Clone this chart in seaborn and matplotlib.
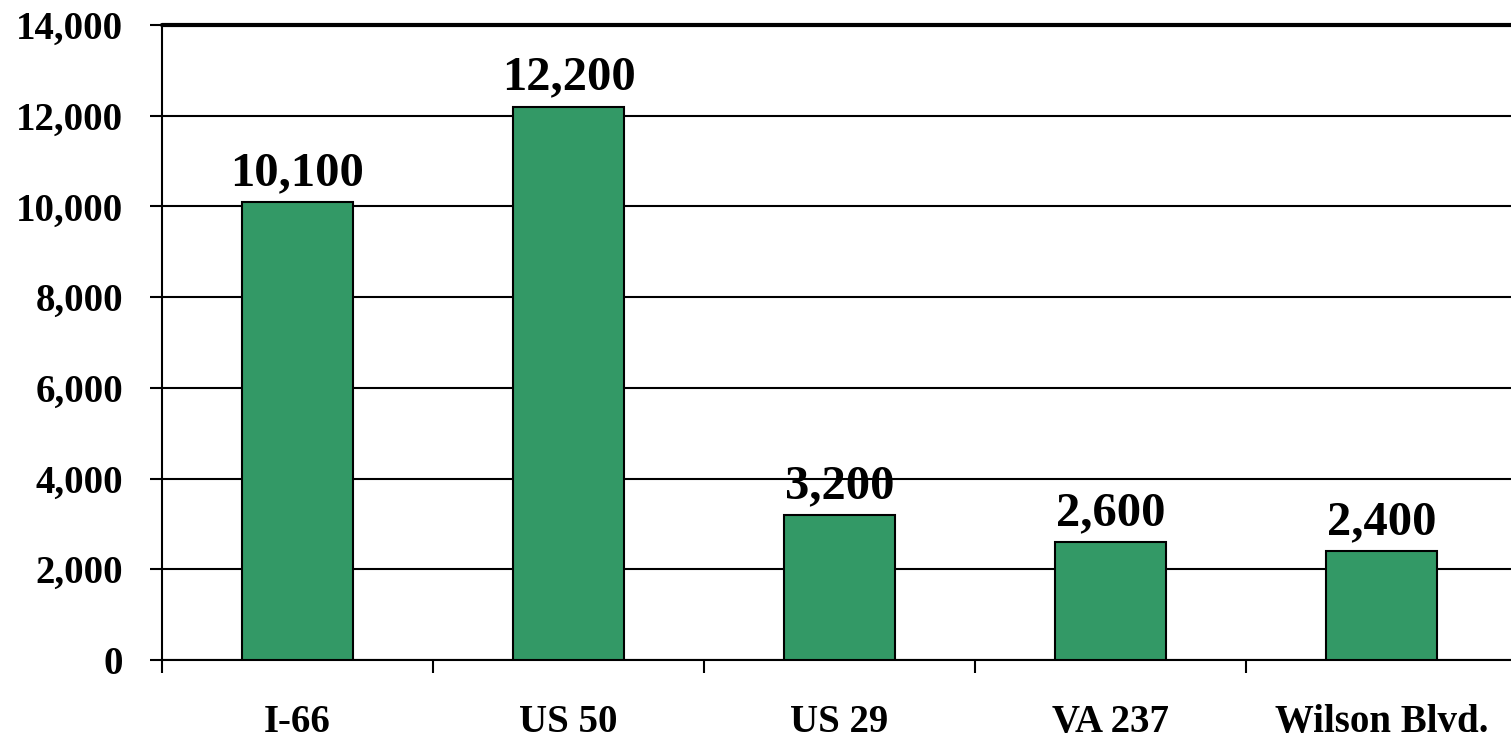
import matplotlib
matplotlib.use("Agg")
import matplotlib.pyplot as plt
import seaborn as sns
import pandas as pd
from matplotlib.ticker import FuncFormatter, FixedLocator

categories = ["I-66", "US 50", "US 29", "VA 237", "Wilson Blvd."]
values = [10100, 12200, 3200, 2600, 2400]
yticks = [0, 2000, 4000, 6000, 8000, 10000, 12000, 14000]

sns.set_theme(style="white")
plt.rcParams["font.family"] = ["Liberation Serif", "DejaVu Serif"]
plt.rcParams["font.weight"] = "bold"

df = pd.DataFrame({"road": categories, "value": values})

fig = plt.figure(figsize=(15.11, 7.34), dpi=100)
W, H = 1511, 734
left, right, top, bottom = 162, 1517, 25, 660
ax = fig.add_axes([left / W, 1 - bottom / H, (right - left) / W, (bottom - top) / H])

sns.barplot(data=df, x="road", y="value", color="#339966", saturation=1,
            width=0.41, edgecolor="black", linewidth=1.5, ax=ax, zorder=3)

ax.set_ylim(0, 14000)
ax.set_xlim(-0.5, len(categories) - 0.5)
ax.set_yticks(yticks)
ax.yaxis.set_major_formatter(FuncFormatter(lambda v, p: f"{int(v):,}"))
ax.grid(axis="y", color="black", linewidth=1.5, zorder=0)
ax.set_axisbelow(True)

for s in ["top", "right"]:
    ax.spines[s].set_visible(False)
ax.spines["left"].set_color("black")
ax.spines["left"].set_linewidth(1.5)
ax.spines["bottom"].set_color("black")
ax.spines["bottom"].set_linewidth(1.5)
ax.axhline(14000, color="black", linewidth=3, zorder=4, clip_on=False)

ax.tick_params(axis="y", which="major", left=True, length=9, width=1.5,
               color="black", labelsize=28, pad=19)
ax.tick_params(axis="x", which="major", bottom=False, length=0,
               labelsize=28, pad=32)
ax.xaxis.set_minor_locator(FixedLocator([i - 0.5 for i in range(len(categories) + 1)]))
ax.tick_params(axis="x", which="minor", bottom=True, length=9, width=1.5, color="black")
for lab in ax.get_xticklabels() + ax.get_yticklabels():
    lab.set_fontweight("bold")
    lab.set_color("black")
ax.set_xlabel("")
ax.set_ylabel("")

for i, v in enumerate(values):
    ax.annotate(f"{v:,}", (i, v), xytext=(0, 5), textcoords="offset points",
                ha="center", va="bottom", fontsize=35, fontweight="bold",
                color="black", zorder=5)

fig.savefig("out.png", dpi=100)
